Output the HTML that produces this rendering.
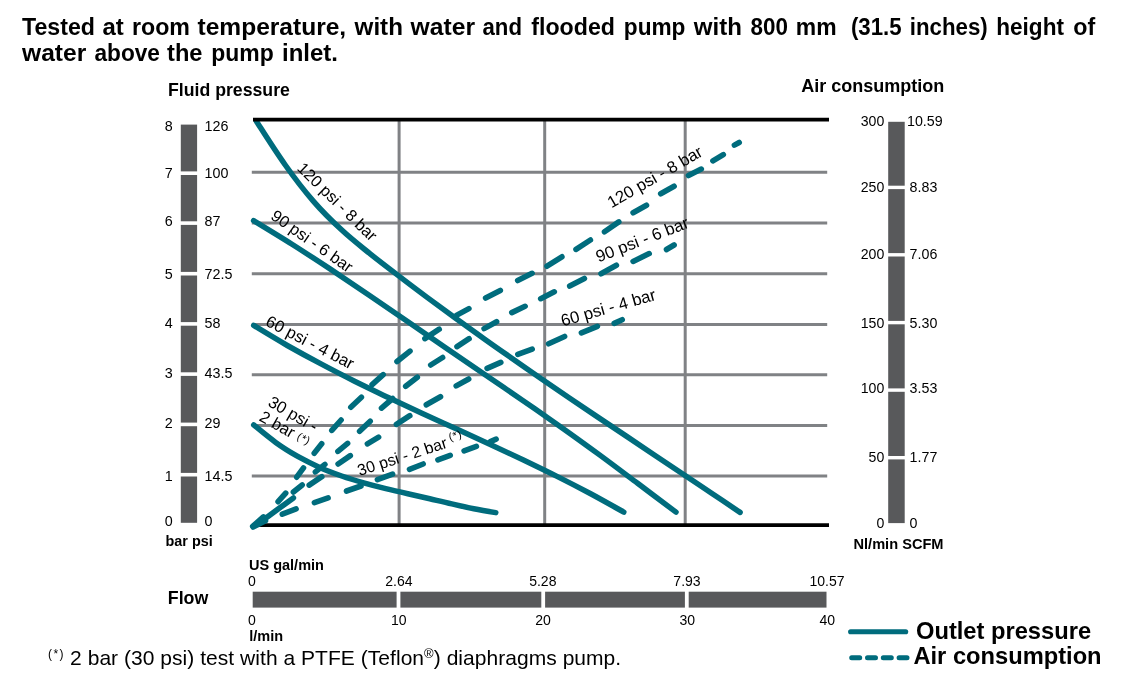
<!DOCTYPE html>
<html><head><meta charset="utf-8"><title>Pump performance chart</title>
<style>
html,body{margin:0;padding:0;background:#fff;}
body{width:1123px;height:686px;overflow:hidden;font-family:"Liberation Sans",sans-serif;}
svg{display:block;position:absolute;left:0;top:0;will-change:transform;}
svg text{font-family:"Liberation Sans",sans-serif;fill:#000;}
.b{font-weight:bold;}
</style></head><body>
<svg width="1123" height="686" viewBox="0 0 1123 686">
<rect x="0" y="0" width="1123" height="686" fill="#ffffff"/>
<text class="b" transform="translate(22.0 35) scale(0.9949 1)" font-size="23.3">Tested</text>
<text class="b" transform="translate(102.5 35) scale(1.0283 1)" font-size="23.3">at</text>
<text class="b" transform="translate(132.0 35) scale(0.9957 1)" font-size="23.3">room</text>
<text class="b" transform="translate(197.5 35) scale(1.0542 1)" font-size="23.3">temperature,</text>
<text class="b" transform="translate(354.57 35) scale(1.0392 1)" font-size="23.3">with</text>
<text class="b" transform="translate(410.57 35) scale(1.0586 1)" font-size="23.3">water</text>
<text class="b" transform="translate(482.5 35) scale(0.9535 1)" font-size="23.3">and</text>
<text class="b" transform="translate(531.3 35) scale(0.9951 1)" font-size="23.3">flooded</text>
<text class="b" transform="translate(623.8 35) scale(0.9728 1)" font-size="23.3">pump</text>
<text class="b" transform="translate(693.87 35) scale(1.0328 1)" font-size="23.3">with</text>
<text class="b" transform="translate(750.6 35) scale(0.9623 1)" font-size="23.3">800</text>
<text class="b" transform="translate(795.8 35) scale(0.9849 1)" font-size="23.3">mm</text>
<text class="b" transform="translate(850.9 35) scale(0.9548 1)" font-size="23.3">(31.5</text>
<text class="b" transform="translate(909.8 35) scale(0.9550 1)" font-size="23.3">inches)</text>
<text class="b" transform="translate(996.2 35) scale(0.9700 1)" font-size="23.3">height</text>
<text class="b" transform="translate(1073.2 35) scale(0.9981 1)" font-size="23.3">of</text>
<text class="b" transform="translate(22.07 61) scale(1.0553 1)" font-size="23.3">water</text>
<text class="b" transform="translate(94.5 61) scale(0.9727 1)" font-size="23.3">above</text>
<text class="b" transform="translate(167.0 61) scale(1.0157 1)" font-size="23.3">the</text>
<text class="b" transform="translate(211.3 61) scale(0.9855 1)" font-size="23.3">pump</text>
<text class="b" transform="translate(282.0 61) scale(1.0297 1)" font-size="23.3">inlet.</text>
<line x1="251.8" x2="827.2" y1="172.3" y2="172.3" stroke="#808285" stroke-width="3"/>
<line x1="251.8" x2="827.2" y1="222.9" y2="222.9" stroke="#808285" stroke-width="3"/>
<line x1="251.8" x2="827.2" y1="273.7" y2="273.7" stroke="#808285" stroke-width="3"/>
<line x1="251.8" x2="827.2" y1="324.4" y2="324.4" stroke="#808285" stroke-width="3"/>
<line x1="251.8" x2="827.2" y1="374.8" y2="374.8" stroke="#808285" stroke-width="3"/>
<line x1="251.8" x2="827.2" y1="425.6" y2="425.6" stroke="#808285" stroke-width="3"/>
<line x1="251.8" x2="827.2" y1="476.0" y2="476.0" stroke="#808285" stroke-width="3"/>
<line x1="399.1" x2="399.1" y1="120" y2="524" stroke="#808285" stroke-width="3"/>
<line x1="544.7" x2="544.7" y1="120" y2="524" stroke="#808285" stroke-width="3"/>
<line x1="685.2" x2="685.2" y1="120" y2="524" stroke="#808285" stroke-width="3"/>
<line x1="255" x2="829" y1="525.1" y2="525.1" stroke="#000" stroke-width="3.8"/>
<path d="M256.4,121.3 C261.1,128.5 275.4,151.2 284.9,164.5 C294.3,177.8 303.8,190.2 313.3,201.1 C322.8,212.1 332.3,221.3 341.8,230.1 C351.2,238.9 360.7,246.2 370.2,253.9 C379.7,261.5 389.2,268.7 398.7,275.9 C408.1,283.2 417.6,290.3 427.1,297.4 C436.6,304.4 446.1,311.4 455.6,318.3 C465.1,325.2 474.5,332.0 484.0,338.7 C493.5,345.5 503.0,352.1 512.5,358.7 C522.0,365.4 531.4,371.9 540.9,378.4 C550.4,385.0 559.9,391.4 569.4,397.9 C578.9,404.3 588.4,410.7 597.8,417.1 C607.3,423.5 616.8,429.8 626.3,436.1 C635.8,442.5 645.3,448.8 654.7,455.2 C664.2,461.5 673.7,467.8 683.2,474.2 C692.7,480.5 702.2,486.8 711.6,493.2 C721.1,499.6 735.4,509.2 740.1,512.4" fill="none" stroke="#006c7d" stroke-width="5.5" stroke-linecap="round" stroke-linejoin="round"/>
<path d="M253.6,220.6 C260.0,224.5 279.2,236.1 292.0,244.2 C304.8,252.3 317.6,260.7 330.4,269.1 C343.2,277.6 356.0,286.3 368.8,295.0 C381.6,303.7 394.4,312.5 407.2,321.3 C420.0,330.1 432.8,339.0 445.6,347.8 C458.4,356.6 471.2,365.3 484.0,374.0 C496.8,382.8 509.6,391.4 522.4,400.2 C535.2,409.1 548.0,417.9 560.8,426.9 C573.6,436.0 586.4,445.2 599.2,454.6 C612.0,464.0 624.8,473.7 637.6,483.3 C650.4,492.9 669.6,507.3 676.0,512.1" fill="none" stroke="#006c7d" stroke-width="5.5" stroke-linecap="round" stroke-linejoin="round"/>
<path d="M253.7,325.4 C259.3,328.8 276.1,339.0 287.3,345.5 C298.6,351.9 309.8,358.0 321.0,363.9 C332.2,369.9 343.4,375.6 354.6,381.2 C365.9,386.8 377.1,392.1 388.3,397.5 C399.5,402.8 410.7,408.0 421.9,413.2 C433.1,418.3 444.4,423.4 455.6,428.6 C466.8,433.7 478.0,438.8 489.2,444.0 C500.4,449.2 511.6,454.4 522.9,459.7 C534.1,465.1 545.3,470.5 556.5,476.1 C567.7,481.7 578.9,487.5 590.2,493.5 C601.4,499.5 618.2,509.0 623.8,512.1" fill="none" stroke="#006c7d" stroke-width="5.5" stroke-linecap="round" stroke-linejoin="round"/>
<path d="M253.7,424.9 C257.4,427.9 268.4,437.2 275.7,442.4 C283.0,447.7 290.4,452.2 297.7,456.4 C305.1,460.5 312.4,464.1 319.7,467.4 C327.1,470.7 334.4,473.4 341.7,476.0 C349.1,478.6 356.4,480.8 363.7,482.9 C371.1,485.0 378.4,486.9 385.8,488.7 C393.1,490.5 400.4,492.1 407.8,493.7 C415.1,495.4 422.4,497.1 429.8,498.8 C437.1,500.5 444.4,502.3 451.8,503.9 C459.1,505.6 466.5,507.3 473.8,508.7 C481.1,510.2 492.1,512.0 495.8,512.6" fill="none" stroke="#006c7d" stroke-width="5.5" stroke-linecap="round" stroke-linejoin="round"/>
<line x1="253" x2="829" y1="119.6" y2="119.6" stroke="#000" stroke-width="3.6"/>
<path d="M252.7,526.4L263.4,516.9M278.1,501.7L285.7,493.1M296.7,477.2L303.5,467.9M314.2,453.2L321.7,443.8M331.8,430.4L341.1,420.0M350.8,407.2L361.4,397.2M372.1,384.6L383.2,374.6M397.0,361.5L410.0,351.1M424.9,338.6L439.2,329.2M456.4,315.4L468.9,308.6M485.6,298.0L500.3,290.4M517.7,280.5L532.1,273.3M547.0,266.2L561.9,256.8M576.0,249.4L590.4,240.0M604.5,231.8L618.8,221.9M633.1,212.7L646.5,205.3M660.7,193.7L674.1,186.3M688.5,175.6L701.3,169.1M712.9,160.9L723.3,154.6M734.4,145.1L739.2,142.5M252.8,526.6L264.3,517.5M265.3,518.4L281.2,506.8M293.4,492.0L302.2,485.0M315.4,471.9L324.9,464.4M337.9,451.4L347.6,443.4M359.6,431.3L370.2,421.2M381.5,408.1L392.7,398.5M405.7,386.3L417.3,377.3M430.7,365.0L442.6,357.5M457.0,346.6L469.1,338.7M484.1,328.6L496.6,321.7M511.8,312.6L525.1,306.3M540.7,298.7L554.3,291.8M569.7,286.1L584.4,278.5M601.0,273.7L616.4,265.3M633.1,261.4L649.2,253.6M666.5,249.5L674.1,245.0M252.9,526.7L265.2,518.1M282.0,506.2L293.4,497.9M309.2,485.1L321.8,476.7M338.1,464.0L350.3,455.6M367.4,443.8L378.6,437.1M396.4,424.4L409.8,415.7M426.3,404.8L440.5,396.7M456.2,385.9L468.7,379.0M487.1,368.4L500.8,362.4M517.8,354.4L532.2,349.1M548.6,343.8L564.6,336.5M581.4,332.8L597.4,326.3M614.2,323.4L622.2,319.7M253.1,527.0L265.5,520.8M282.3,514.2L296.1,508.9M314.4,502.6L328.1,497.9M346.5,491.0L361.0,486.0M377.4,479.6L392.6,474.1M409.5,469.3L423.2,464.0M437.9,459.8L450.2,455.3M464.1,450.9L476.4,446.4M490.4,441.6L496.1,439.2" fill="none" stroke="#006c7d" stroke-width="5.6" stroke-linecap="round"/>
<text transform="translate(296.3 169.3) rotate(44.4)" font-size="16.3">120 psi - 8 bar</text>
<text transform="translate(269.7 218.2) rotate(35)" font-size="16.4">90 psi - 6 bar</text>
<text transform="translate(264.6 324.9) rotate(27.5)" font-size="16.6">60 psi - 4 bar</text>
<text transform="translate(266.9 405.2) rotate(30)" font-size="16.5">30 psi -</text>
<text transform="translate(258.3 420) rotate(29.5)" font-size="16.5">2 bar <tspan font-size="11" dy="-2.5" letter-spacing="0.6">(*)</tspan></text>
<text transform="translate(611.5 208.5) rotate(-30)" font-size="16.7">120 psi - 8 bar</text>
<text transform="translate(598.5 262.6) rotate(-21.1)" font-size="16.8">90 psi - 6 bar</text>
<text transform="translate(562.8 326.6) rotate(-16.0)" font-size="16.8">60 psi - 4 bar</text>
<text transform="translate(359.5 476.1) rotate(-17.9)" font-size="16.0">30 psi - 2 bar <tspan font-size="11" dy="-5.5" dx="-1" letter-spacing="0.6">(*)</tspan></text>
<rect x="180.8" y="124.6" width="16.3" height="398.2" fill="#58595b"/>
<rect x="180" y="171.4" width="18" height="3.6" fill="#fff"/>
<rect x="180" y="221.3" width="18" height="3.6" fill="#fff"/>
<rect x="180" y="271.9" width="18" height="3.6" fill="#fff"/>
<rect x="180" y="322.1" width="18" height="3.6" fill="#fff"/>
<rect x="180" y="372.3" width="18" height="3.6" fill="#fff"/>
<rect x="180" y="422.6" width="18" height="3.6" fill="#fff"/>
<rect x="180" y="472.9" width="18" height="3.6" fill="#fff"/>
<text class="b" transform="translate(168 96.4)" font-size="17.7">Fluid pressure</text>
<text transform="translate(164.8 131.2) scale(0.9300 1)" font-size="15.4">8</text>
<text transform="translate(204.5 131.2) scale(0.9300 1)" font-size="15.4">126</text>
<text transform="translate(164.8 178) scale(0.9300 1)" font-size="15.4">7</text>
<text transform="translate(204.5 178) scale(0.9300 1)" font-size="15.4">100</text>
<text transform="translate(164.8 226) scale(0.9300 1)" font-size="15.4">6</text>
<text transform="translate(204.5 226) scale(0.9300 1)" font-size="15.4">87</text>
<text transform="translate(164.8 278.9) scale(0.9300 1)" font-size="15.4">5</text>
<text transform="translate(204.5 278.9) scale(0.9300 1)" font-size="15.4">72.5</text>
<text transform="translate(164.8 328) scale(0.9300 1)" font-size="15.4">4</text>
<text transform="translate(204.5 328) scale(0.9300 1)" font-size="15.4">58</text>
<text transform="translate(164.8 377.8) scale(0.9300 1)" font-size="15.4">3</text>
<text transform="translate(204.5 377.8) scale(0.9300 1)" font-size="15.4">43.5</text>
<text transform="translate(164.8 427.5) scale(0.9300 1)" font-size="15.4">2</text>
<text transform="translate(204.5 427.5) scale(0.9300 1)" font-size="15.4">29</text>
<text transform="translate(164.8 480.8) scale(0.9300 1)" font-size="15.4">1</text>
<text transform="translate(204.5 480.8) scale(0.9300 1)" font-size="15.4">14.5</text>
<text transform="translate(164.8 525.5) scale(0.9300 1)" font-size="15.4">0</text>
<text transform="translate(204.5 525.5) scale(0.9300 1)" font-size="15.4">0</text>
<text class="b" transform="translate(165.5 546.4)" font-size="14.4">bar psi</text>
<rect x="888.2" y="121.8" width="16.5" height="401.3" fill="#58595b"/>
<rect x="887.5" y="185.70000000000002" width="18" height="3.4" fill="#fff"/>
<rect x="887.5" y="253.10000000000002" width="18" height="3.4" fill="#fff"/>
<rect x="887.5" y="320.90000000000003" width="18" height="3.4" fill="#fff"/>
<rect x="887.5" y="388.40000000000003" width="18" height="3.4" fill="#fff"/>
<rect x="887.5" y="456.0" width="18" height="3.4" fill="#fff"/>
<text class="b" transform="translate(801.2 92)" font-size="18">Air consumption</text>
<text transform="translate(884.3 126.2) scale(0.9800 1)" font-size="14.4" text-anchor="end">300</text>
<text transform="translate(907.0 126.2) scale(0.9900 1)" font-size="14.4">10.59</text>
<text transform="translate(884.3 192) scale(0.9800 1)" font-size="14.4" text-anchor="end">250</text>
<text transform="translate(909.6 192) scale(0.9900 1)" font-size="14.4">8.83</text>
<text transform="translate(884.3 258.8) scale(0.9800 1)" font-size="14.4" text-anchor="end">200</text>
<text transform="translate(909.6 258.8) scale(0.9900 1)" font-size="14.4">7.06</text>
<text transform="translate(884.3 327.7) scale(0.9800 1)" font-size="14.4" text-anchor="end">150</text>
<text transform="translate(909.6 327.7) scale(0.9900 1)" font-size="14.4">5.30</text>
<text transform="translate(884.3 392.6) scale(0.9800 1)" font-size="14.4" text-anchor="end">100</text>
<text transform="translate(909.6 392.6) scale(0.9900 1)" font-size="14.4">3.53</text>
<text transform="translate(884.3 462) scale(0.9800 1)" font-size="14.4" text-anchor="end">50</text>
<text transform="translate(909.6 462) scale(0.9900 1)" font-size="14.4">1.77</text>
<text transform="translate(884.3 528) scale(0.9800 1)" font-size="14.4" text-anchor="end">0</text>
<text transform="translate(909.6 528) scale(0.9900 1)" font-size="14.4">0</text>
<text class="b" transform="translate(853.5 549.2)" font-size="14.6">Nl/min SCFM</text>
<rect x="252.7" y="591.7" width="573.8" height="15.9" fill="#58595b"/>
<rect x="396.6" y="590.5" width="3.8" height="18" fill="#fff"/>
<rect x="541.3000000000001" y="590.5" width="3.8" height="18" fill="#fff"/>
<rect x="684.9" y="590.5" width="3.8" height="18" fill="#fff"/>
<text class="b" transform="translate(167.8 603.8)" font-size="17.8">Flow</text>
<text class="b" transform="translate(249 570)" font-size="14.5">US gal/min</text>
<text class="b" transform="translate(249.3 640.8)" font-size="14.5">l/min</text>
<text transform="translate(251.8 586.1) scale(0.9500 1)" font-size="14.8" text-anchor="middle">0</text>
<text transform="translate(398.9 586.1) scale(0.9500 1)" font-size="14.8" text-anchor="middle">2.64</text>
<text transform="translate(542.8 586.1) scale(0.9500 1)" font-size="14.8" text-anchor="middle">5.28</text>
<text transform="translate(687 586.1) scale(0.9500 1)" font-size="14.8" text-anchor="middle">7.93</text>
<text transform="translate(827 586.1) scale(0.9500 1)" font-size="14.8" text-anchor="middle">10.57</text>
<text transform="translate(251.8 625.0) scale(0.9500 1)" font-size="14.8" text-anchor="middle">0</text>
<text transform="translate(398.8 625.0) scale(0.9500 1)" font-size="14.8" text-anchor="middle">10</text>
<text transform="translate(543 625.0) scale(0.9500 1)" font-size="14.8" text-anchor="middle">20</text>
<text transform="translate(687.2 625.0) scale(0.9500 1)" font-size="14.8" text-anchor="middle">30</text>
<text transform="translate(827.3 625.0) scale(0.9500 1)" font-size="14.8" text-anchor="middle">40</text>
<text transform="translate(48 664.9)" font-size="21" letter-spacing="0.04"><tspan font-size="12" dy="-7" letter-spacing="1.4">(*)</tspan><tspan dy="7" dx="5.2">2 bar (30 psi) test with a PTFE (Teflon</tspan><tspan font-size="13" dy="-6.5">&#174;</tspan><tspan dy="6.5">) diaphragms pump.</tspan></text>
<line x1="850.6" x2="905.7" y1="631.7" y2="631.7" stroke="#006c7d" stroke-width="5.1" stroke-linecap="round"/>
<line x1="851.7" x2="907.0" y1="657.7" y2="657.7" stroke="#006c7d" stroke-width="5" stroke-linecap="round" stroke-dasharray="8 7.8"/>
<text class="b" transform="translate(916 638.5)" font-size="23.7">Outlet pressure</text>
<text class="b" transform="translate(913.4 663.8)" font-size="23.7">Air consumption</text>
</svg></body></html>
